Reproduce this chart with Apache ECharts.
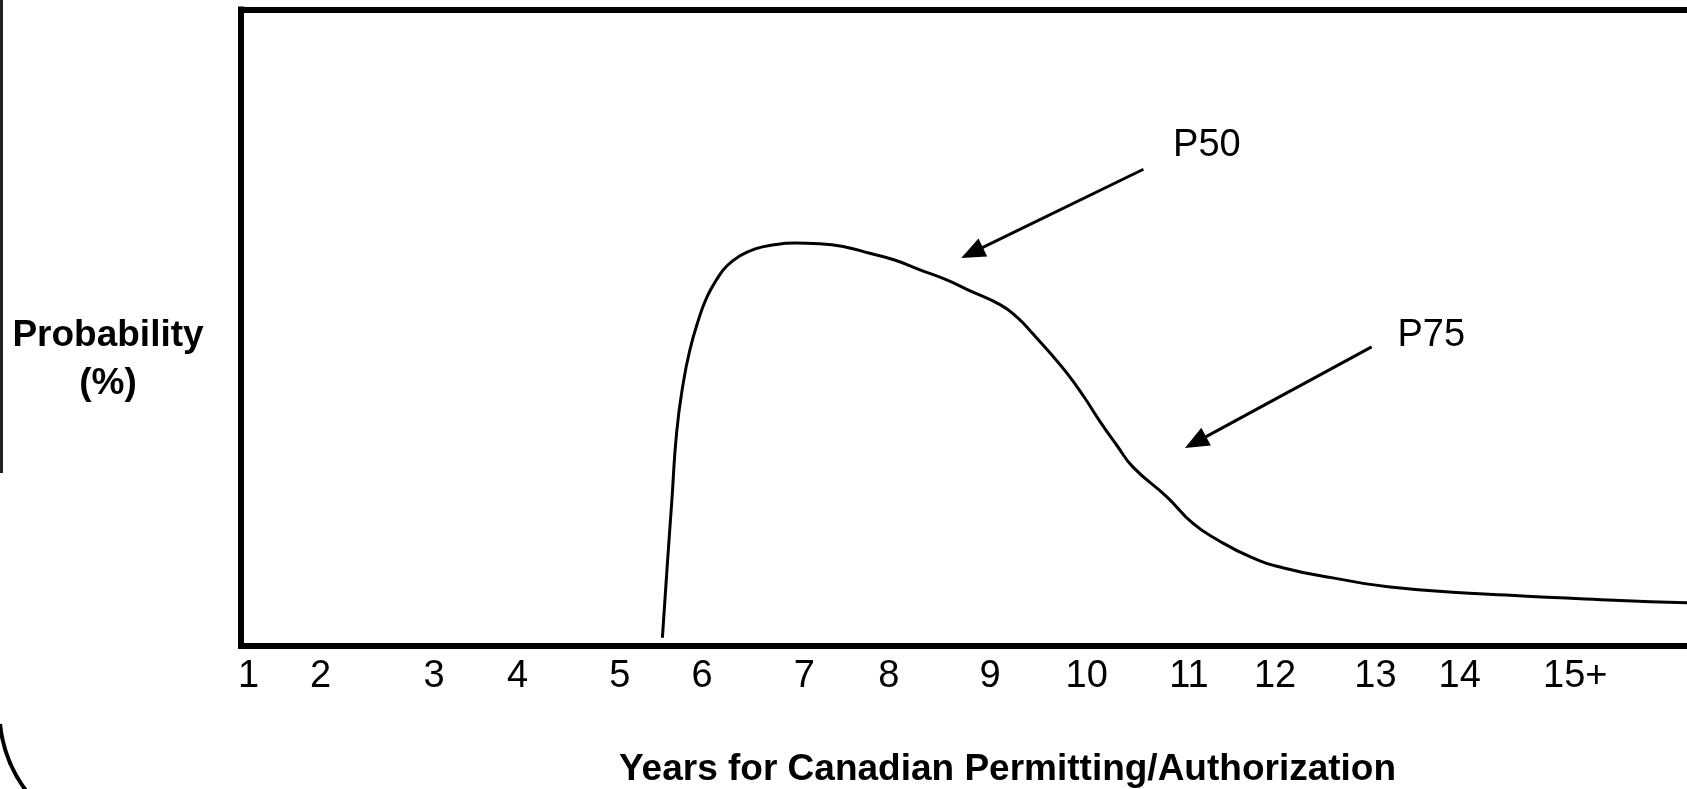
<!DOCTYPE html>
<html>
<head>
<meta charset="utf-8">
<title>Years for Canadian Permitting/Authorization</title>
<script src="https://cdn.jsdelivr.net/npm/echarts@6/dist/echarts.min.js"></script>
<style>
  html, body { margin: 0; padding: 0; background: #fff; }
  #main { width: 1687px; height: 789px; }
</style>
</head>
<body>
<div id="main"></div>
<script>
// x axis labels, placed where they sit on the (hand-typed) axis
const yearTickPos = [1.08, 1.84, 3.04, 3.92, 5.0, 5.87, 6.95, 7.84, 8.91, 9.93, 11.01, 11.92, 12.98, 13.87, 15.09];
const yearTickLabels = ["1", "2", "3", "4", "5", "6", "7", "8", "9", "10", "11", "12", "13", "14", "15+"];

// probability curve (years, %)
const curveYears = [5.45, 5.5, 5.55, 5.6, 5.67, 5.74, 5.83, 5.92, 6.02, 6.13, 6.27, 6.43, 6.61, 6.85, 7.11, 7.38, 7.64, 7.91, 8.17, 8.44, 8.67, 9.02, 9.2, 9.36, 9.54, 9.72, 9.9, 10.07, 10.25, 10.42, 10.78, 11.05, 11.31, 11.66, 12.0, 12.53, 13.24, 14.36, 15.5, 16.27];
const curveProb = [1.3, 12.4, 22.9, 33.5, 41.3, 46.5, 51.2, 54.8, 57.5, 59.7, 61.3, 62.4, 63.0, 63.3, 63.2, 62.7, 61.7, 60.6, 59.1, 57.6, 56.0, 53.6, 51.6, 49.1, 46.1, 42.9, 39.2, 35.3, 31.5, 28.1, 23.4, 19.3, 16.7, 14.0, 12.3, 10.7, 9.1, 8.0, 7.2, 6.8];

// callouts: label position, arrow tail, arrow head
const calloutNames = ["P50", "P75"];
const calloutText = [[11.2, 78.6], [13.57, 48.8]];
const calloutFrom = [[10.53, 74.9], [12.94, 47.0]];
const calloutTo = [[8.72, 61.8], [11.08, 32.0]];

var myChart = echarts.init(document.getElementById("main"), null, { renderer: "canvas" });

let curveData = curveYears.map((x, i) => [x, curveProb[i]]);
let arrowLines = calloutNames.map((n, i) => [{ coord: calloutFrom[i] }, { coord: calloutTo[i] }]);
let textPoints = calloutNames.map((n, i) => ({ name: n, coord: calloutText[i] }));

let frameLine = { show: true, lineStyle: { color: "#000", width: 6, cap: "square" } };

var option = {
  backgroundColor: "#fff",
  animation: false,
  grid: {
    left: 241,
    top: 9.5,
    right: 0,
    bottom: 143,
    outerBoundsMode: "none",
    containLabel: false,
  },
  xAxis: [
    {
      type: "value",
      min: 1,
      max: 16.27,
      position: "bottom",
      name: "Years for Canadian Permitting/Authorization",
      nameLocation: "middle",
      nameGap: 124,
      nameTextStyle: {
        fontFamily: "Liberation Sans",
        fontWeight: "bold",
        fontSize: 37,
        color: "#000",
        align: "center",
        verticalAlign: "middle",
        padding: [0, 0, 0, 87],
      },
      axisLine: frameLine,
      axisTick: { show: false },
      splitLine: { show: false },
      axisLabel: {
        customValues: yearTickPos,
        formatter: function (value) {
          return yearTickLabels[yearTickPos.indexOf(value)];
        },
        margin: 12,
        fontFamily: "Liberation Sans",
        fontSize: 38,
        color: "#000",
      },
    },
    {
      // top edge of the frame
      type: "value",
      min: 1,
      max: 16.27,
      position: "top",
      axisLine: frameLine,
      axisTick: { show: false },
      axisLabel: { show: false },
      splitLine: { show: false },
    },
  ],
  yAxis: {
    type: "value",
    min: 0,
    max: 100,
    axisLine: frameLine,
    axisTick: { show: false },
    axisLabel: { show: false },
    splitLine: { show: false },
  },
  graphic: [
    {
      type: "text",
      x: 108,
      y: 360,
      style: {
        text: "Probability\n(%)",
        fontFamily: "Liberation Sans",
        fontWeight: "bold",
        fontSize: 37,
        lineHeight: 48,
        fill: "#000",
        align: "center",
        verticalAlign: "middle",
      },
    },
    // scanned outer frame remains on the left
    {
      type: "line",
      shape: { x1: 1.5, y1: 0, x2: 1.5, y2: 473 },
      style: { stroke: "#222", lineWidth: 3 },
    },
    {
      type: "bezierCurve",
      shape: { x1: 0, y1: 724, cpx1: 4, cpy1: 762, x2: 27, y2: 792 },
      style: { stroke: "#000", lineWidth: 4, fill: null },
    },
  ],
  series: [
    {
      name: "Probability",
      type: "line",
      data: curveData,
      smooth: 0.5,
      showSymbol: false,
      lineStyle: { color: "#000", width: 3 },
      silent: true,
      markLine: {
        silent: true,
        symbol: ["none", "triangle"],
        symbolSize: [20, 24],
        label: { show: false },
        lineStyle: { color: "#000", width: 3, type: "solid" },
        itemStyle: { color: "#000" },
        data: arrowLines,
      },
      markPoint: {
        silent: true,
        symbol: "circle",
        symbolSize: 0,
        label: {
          show: true,
          position: "inside",
          formatter: "{b}",
          fontFamily: "Liberation Sans",
          fontSize: 38,
          color: "#000",
        },
        data: textPoints,
      },
    },
  ],
};

if (option && typeof option === "object") {
  myChart.setOption(option);
}
window.addEventListener("resize", myChart.resize);
</script>
</body>
</html>
